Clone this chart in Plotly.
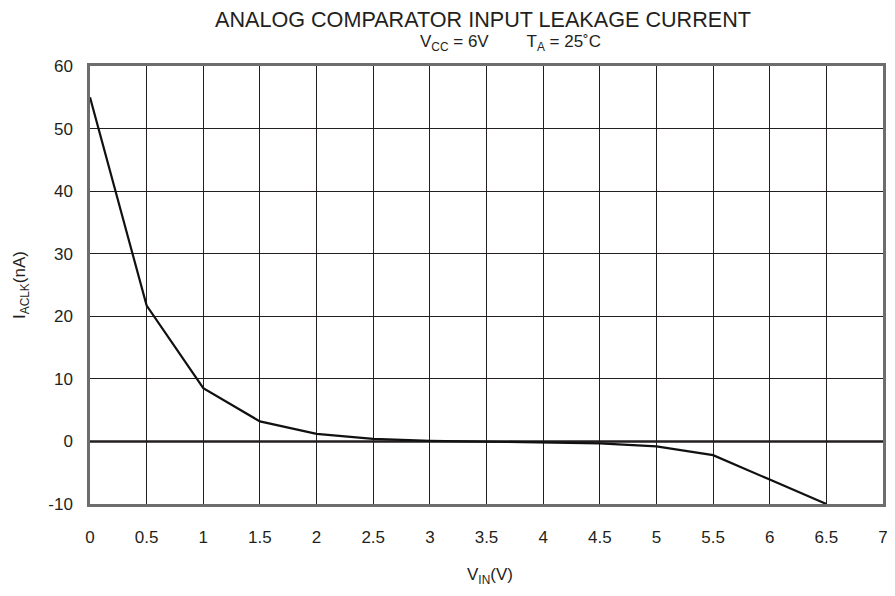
import plotly.graph_objects as go

v_in = [0, 0.5, 1, 1.5, 2, 2.5, 3, 3.5, 4, 4.5, 5, 5.5, 6, 6.5]
i_aclk = [55, 21.7, 8.5, 3.2, 1.2, 0.4, 0.1, 0.0, -0.1, -0.3, -0.8, -2.2, -6.1, -10]

x_ticks = [0, 0.5, 1, 1.5, 2, 2.5, 3, 3.5, 4, 4.5, 5, 5.5, 6, 6.5, 7]
x_tick_text = ["0", "0.5", "1", "1.5", "2", "2.5", "3", "3.5", "4", "4.5", "5", "5.5", "6", "6.5", "7"]
y_ticks = [-10, 0, 10, 20, 30, 40, 50, 60]
y_tick_text = ["-10", "0", "10", "20", "30", "40", "50", "60"]

FONT = "Liberation Sans, Arial, sans-serif"
TEXT_COLOR = "#231f20"
NB = "\u00a0"

fig = go.Figure()

# zero line drawn heavier than the grid
fig.add_trace(go.Scatter(
    x=[0, 7], y=[0, 0], mode="lines",
    line=dict(color="#231f20", width=2.4),
    hoverinfo="skip", showlegend=False,
))

fig.add_trace(go.Scatter(
    x=v_in, y=i_aclk, mode="lines",
    line=dict(color="#111111", width=2.2),
    showlegend=False,
))

# page body adds an 8px offset, so the figure is a bit smaller than the window
fig.update_layout(
    width=885, height=586,
    margin=dict(l=82, r=10, t=58, b=90),
    paper_bgcolor="white",
    plot_bgcolor="white",
    font=dict(family=FONT, size=17, color=TEXT_COLOR),
    showlegend=False,
)

fig.update_xaxes(
    range=[0, 7],
    tickvals=x_ticks, ticktext=x_tick_text,
    showgrid=True, gridcolor="#231f20", gridwidth=1.3,
    showline=True, linecolor="#6d6d6d", linewidth=2.5, mirror=True,
    ticks="", ticklabelstandoff=16,
    zeroline=False, automargin=False,
    tickfont=dict(size=17),
)
fig.update_yaxes(
    range=[-10, 60],
    tickvals=y_ticks, ticktext=y_tick_text,
    showgrid=True, gridcolor="#231f20", gridwidth=1.3,
    showline=True, linecolor="#6d6d6d", linewidth=2.5, mirror=True,
    ticks="", ticklabelstandoff=11,
    zeroline=False, automargin=False,
    tickfont=dict(size=17),
)

fig.add_annotation(
    text="ANALOG COMPARATOR INPUT LEAKAGE CURRENT",
    xref="paper", yref="paper", x=0.496, y=1, yshift=47,
    xanchor="center", yanchor="middle", showarrow=False,
    font=dict(size=21.6),
)
fig.add_annotation(
    text="V<sub>CC</sub> = 6V" + NB * 8 + "T<sub>A</sub> = 25˚C",
    xref="paper", yref="paper", x=0.53, y=1, yshift=23,
    xanchor="center", yanchor="middle", showarrow=False,
    font=dict(size=17),
)
fig.add_annotation(
    text="I<sub>ACLK</sub>(nA)",
    xref="paper", yref="paper", x=0, y=0.5, xshift=-69,
    xanchor="center", yanchor="middle", textangle=-90, showarrow=False,
    font=dict(size=17),
)
fig.add_annotation(
    text="V<sub>IN</sub>(V)",
    xref="paper", yref="paper", x=0.505, y=0, yshift=-72,
    xanchor="center", yanchor="middle", showarrow=False,
    font=dict(size=17),
)

fig.write_html("out.html")
